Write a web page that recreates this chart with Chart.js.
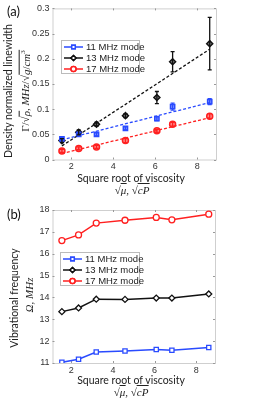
<!DOCTYPE html>
<html>
<head>
<meta charset="utf-8">
<script src="https://cdn.jsdelivr.net/npm/chart.js@4/dist/chart.umd.min.js"></script>
<style>
  body { margin: 0; background: #fff; }
  #wrap { position: relative; width: 269px; height: 401px; overflow: hidden; }
  canvas { position: absolute; left: 0; }
  .lbl { position: absolute; font-family: Lato, sans-serif; font-size: 10.5px; color: #222; white-space: nowrap; transform: translate(-50%, -50%); }
  .rot { transform: translate(-50%, -50%) rotate(-90deg); }
  .m { font-family: "Liberation Serif", serif; font-size: 11px; }
  .m i { font-style: italic; }
  .ov { border-top: 1px solid #222; }
  .pan { position: absolute; font-family: Lato, sans-serif; font-size: 13px; color: #111; }
</style>
</head>
<body>
<div id="wrap">
  <canvas id="chartA" width="269" height="200" style="top:0"></canvas>
  <canvas id="chartB" width="269" height="201" style="top:200px"></canvas>

  <div class="pan" style="left:7px; top:3px">(a)</div>
  <div class="pan" style="left:7px; top:206px">(b)</div>

  <div class="lbl rot" style="left:8px; top:91px">Density normalized linewidth</div>
  <div class="lbl rot m" style="left:25px; top:91px">Γ/√<span class="ov"><i>ρ</i></span>, <i>MHz</i>/√<span class="ov"><i>g</i>/<i>cm</i><sup style="font-size:7px">3</sup></span></div>
  <div class="lbl" style="left:131px; top:178px">Square root of viscosity</div>
  <div class="lbl m" style="left:132px; top:190px">√<span class="ov"><i>μ</i></span>, √<span class="ov"><i>cP</i></span></div>

  <div class="lbl rot" style="left:14px; top:298px">Vibrational frequency</div>
  <div class="lbl rot m" style="left:29px; top:295px"><i>Ω, MHz</i></div>
  <div class="lbl" style="left:131px; top:380px">Square root of viscosity</div>
  <div class="lbl m" style="left:131px; top:392px">√<span class="ov"><i>μ</i></span>, √<span class="ov"><i>cP</i></span></div>
</div>
<script>
// square root of viscosity (x)
const sqrtVisc = [1.55, 2.35, 3.2, 4.58, 6.08, 6.83, 8.6];
const modes = ['11 MHz mode', '13 MHz mode', '17 MHz mode'];
const colors = ['#2a4bff', '#111111', '#ff2020'];
const shapes = ['rect', 'rectRot', 'circle'];

// (a) density normalized linewidth
const width11 = [0.041, 0.050, 0.050, 0.062, 0.081, 0.105, 0.115];
const width13 = [0.0375, 0.054, 0.070, 0.087, 0.123, 0.194, 0.230];
const width17 = [0.017, 0.022, 0.025, 0.0375, 0.057, 0.070, 0.086];
const err11 = [0.003, 0.003, 0.003, 0.003, 0.004, 0.007, 0.006];
const err13 = [0.004, 0.005, 0.004, 0.004, 0.012, 0.020, 0.052];
const err17 = [0.003, 0.003, 0.003, 0.004, 0.003, 0.004, 0.005];
// linear fits, end points
const fitX = [1.55, 8.6];
const fit11 = [0.039, 0.113];
const fit13 = [0.027, 0.219];
const fit17 = [0.012, 0.083];

// (b) vibrational frequency
const freq11 = [11.03, 11.17, 11.50, 11.55, 11.62, 11.58, 11.71];
const freq13 = [13.35, 13.52, 13.92, 13.91, 13.97, 13.97, 14.16];
const freq17 = [16.60, 16.86, 17.40, 17.53, 17.66, 17.55, 17.81];

const xTicks = [2, 4, 6, 8];
const yTicksA = [0, 0.05, 0.1, 0.15, 0.2, 0.25, 0.3];
const yTicksB = [11, 12, 13, 14, 15, 16, 17, 18];

function pts(ys) { return ys.map((y, i) => ({ x: sqrtVisc[i], y: y })); }
function fitPts(ys) { return ys.map((y, i) => ({ x: fitX[i], y: y })); }

function fade(hex, a) {
  const n = parseInt(hex.slice(1), 16);
  return `rgba(${n >> 16},${(n >> 8) & 255},${n & 255},${a})`;
}

// frame with small inward ticks on all 4 sides
const boxPlugin = {
  id: 'box',
  beforeDatasetsDraw(chart) {
    const { ctx, chartArea: a, scales: { x, y } } = chart;
    ctx.save();
    ctx.strokeStyle = '#cfcfcf';
    ctx.lineWidth = 1;
    ctx.strokeRect(a.left + 0.5, a.top + 0.5, a.right - a.left, a.bottom - a.top);
    ctx.strokeStyle = '#999';
    ctx.beginPath();
    x.ticks.forEach(t => {
      const px = Math.round(x.getPixelForValue(t.value)) + 0.5;
      ctx.moveTo(px, a.bottom); ctx.lineTo(px, a.bottom - 2);
      ctx.moveTo(px, a.top); ctx.lineTo(px, a.top + 2);
    });
    y.ticks.forEach(t => {
      const py = Math.round(y.getPixelForValue(t.value)) + 0.5;
      ctx.moveTo(a.left, py); ctx.lineTo(a.left + 2, py);
      ctx.moveTo(a.right, py); ctx.lineTo(a.right - 2, py);
    });
    ctx.stroke();
    ctx.restore();
  }
};

const errPlugin = {
  id: 'errbars',
  afterDatasetsDraw(chart, args, opts) {
    if (!opts.sets) return;
    const { ctx, scales: { x, y } } = chart;
    ctx.save();
    ctx.lineWidth = 1.3;
    opts.sets.forEach(s => {
      ctx.strokeStyle = s.color;
      s.vals.forEach((v, i) => {
        const px = x.getPixelForValue(sqrtVisc[i]);
        const y1 = y.getPixelForValue(v - s.err[i]);
        const y2 = y.getPixelForValue(v + s.err[i]);
        ctx.beginPath();
        ctx.moveTo(px, y1); ctx.lineTo(px, y2);
        ctx.moveTo(px - 2, y1); ctx.lineTo(px + 2, y1);
        ctx.moveTo(px - 2, y2); ctx.lineTo(px + 2, y2);
        ctx.stroke();
      });
    });
    ctx.restore();
  }
};

const legendPlugin = {
  id: 'boxlegend',
  afterDraw(chart, args, o) {
    const ctx = chart.ctx;
    ctx.save();
    ctx.fillStyle = '#fff';
    ctx.fillRect(o.x, o.y, o.w, o.h);
    ctx.strokeStyle = '#bbb';
    ctx.lineWidth = 1;
    ctx.strokeRect(o.x + 0.5, o.y + 0.5, o.w, o.h);
    ctx.font = '9.5px "Liberation Sans", Arial, sans-serif';
    ctx.textBaseline = 'middle';
    modes.forEach((m, i) => {
      const cy = o.y + 7 + i * o.step;
      ctx.strokeStyle = colors[i];
      ctx.lineWidth = 1.5;
      ctx.beginPath();
      ctx.moveTo(o.x + 3, cy); ctx.lineTo(o.x + 22, cy);
      ctx.stroke();
      ctx.fillStyle = '#fff';
      Chart.helpers.drawPoint(ctx, { pointStyle: shapes[i], radius: 2.5, borderWidth: 1.3 }, o.x + 12.5, cy);
      ctx.fill(); ctx.stroke();
      ctx.fillStyle = '#222';
      ctx.fillText(m, o.x + 25, cy + 0.5);
    });
    ctx.restore();
  }
};

function scales(yMin, yMax, yTicks, xH) {
  const tickFont = { family: '"Liberation Sans", Arial, sans-serif', size: 9 };
  return {
    x: {
      type: 'linear', min: 1.1, max: 8.9,
      grid: { display: false, drawTicks: false, tickLength: 0 }, border: { display: false },
      afterBuildTicks: s => { s.ticks = xTicks.map(v => ({ value: v })); },
      afterFit: s => { s.height = xH; },
      ticks: { font: tickFont, color: '#333', padding: 2, maxRotation: 0, autoSkip: false }
    },
    y: {
      min: yMin, max: yMax,
      grid: { display: false, drawTicks: false, tickLength: 0 }, border: { display: false },
      afterBuildTicks: s => { s.ticks = yTicks.map(v => ({ value: v })); },
      afterFit: s => { s.width = 52.5; },
      ticks: { font: tickFont, color: '#333', padding: 3, autoSkip: false,
               callback: v => String(Math.round(v * 100) / 100) }
    }
  };
}

const fitStyle = (c) => ({ type: 'line', borderColor: c, borderWidth: 1.3, borderDash: [3, 2], pointRadius: 0, fill: false });
const ptStyle = (i, d) => ({ type: 'line', data: pts(d), showLine: false, pointStyle: shapes[i], pointRadius: 3,
  borderColor: colors[i], backgroundColor: fade(colors[i], 0.55), pointBorderWidth: 1.5 });

new Chart(document.getElementById('chartA'), {
  type: 'line',
  data: {
    datasets: [
      Object.assign({ data: fitPts(fit11) }, fitStyle(colors[0])),
      Object.assign({ data: fitPts(fit13) }, fitStyle(colors[1])),
      Object.assign({ data: fitPts(fit17) }, fitStyle(colors[2])),
      ptStyle(0, width11), ptStyle(1, width13), ptStyle(2, width17)
    ]
  },
  options: {
    responsive: false, animation: false, devicePixelRatio: 1,
    layout: { autoPadding: false, padding: { left: 0, top: 4.5, right: 53, bottom: 0 } },
    scales: scales(0, 0.3, yTicksA, 40.5),
    plugins: {
      legend: { display: false }, tooltip: { enabled: false },
      errbars: { sets: [
        { vals: width11, err: err11, color: colors[0] },
        { vals: width13, err: err13, color: colors[1] },
        { vals: width17, err: err17, color: colors[2] }
      ] },
      boxlegend: { x: 61, y: 40, w: 78, h: 33, step: 11 }
    }
  },
  plugins: [boxPlugin, errPlugin, legendPlugin]
});

const lineStyle = (i, d) => ({ data: pts(d), borderColor: colors[i], borderWidth: 1.5, pointStyle: shapes[i],
  pointRadius: 3, pointBorderWidth: 1.3, pointBackgroundColor: '#fff', pointBorderColor: colors[i], fill: false });

new Chart(document.getElementById('chartB'), {
  type: 'line',
  data: { datasets: [lineStyle(0, freq11), lineStyle(1, freq13), lineStyle(2, freq17)] },
  options: {
    responsive: false, animation: false, devicePixelRatio: 1,
    layout: { autoPadding: false, padding: { left: 0, top: 10, right: 54, bottom: 0 } },
    scales: scales(11, 18, yTicksB, 38),
    plugins: {
      legend: { display: false }, tooltip: { enabled: false },
      boxlegend: { x: 60, y: 52, w: 79, h: 33, step: 11 }
    }
  },
  plugins: [boxPlugin, legendPlugin]
});
</script>
</body>
</html>
